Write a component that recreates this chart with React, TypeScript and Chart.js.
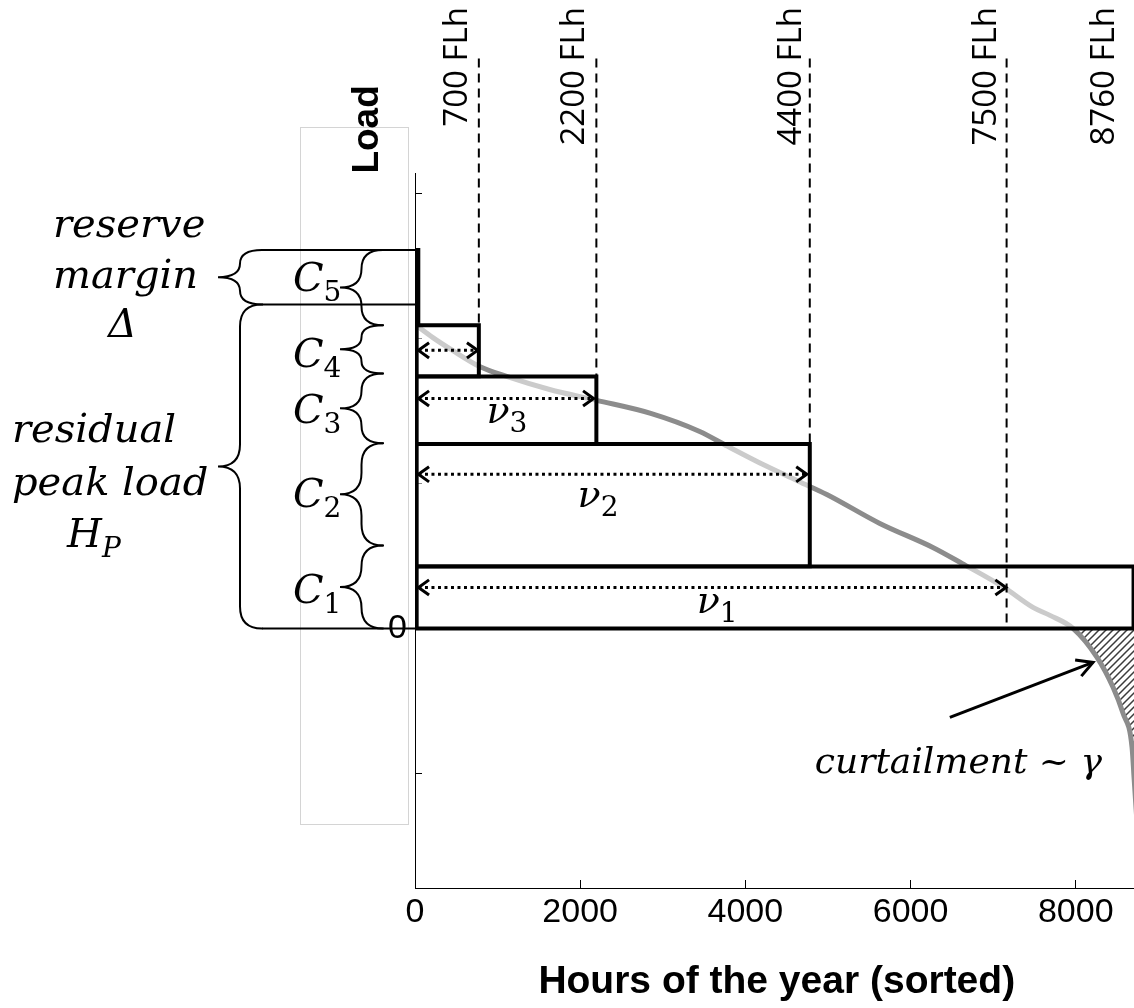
import { useEffect, useRef } from 'react';
import { Chart, registerables } from 'chart.js';

Chart.register(...registerables);

// ---------- data: x = hours of the year (sorted), y = normalised residual load ----------
const curveHours = [30, 212, 454, 782, 1109, 1630, 2200, 2854, 3447, 3787, 4259, 4647, 4986, 5628, 6270, 6622, 7131, 7482, 7688, 7967, 8258, 8452, 8573, 8682, 8706, 8760];
const curveLoad = [2.086, 2.01, 1.92, 1.809, 1.74, 1.65, 1.575, 1.485, 1.36, 1.257, 1.119, 1.015, 0.925, 0.725, 0.559, 0.449, 0.283, 0.145, 0.09, 0, -0.2, -0.407, -0.587, -0.822, -1.029, -1.5];

// capacity blocks C1..C5
const blockNames = ['1', '2', '3', '4', '5'];
const blockStart = [20, 20, 20, 20, 20];
const blockEnd = [8700, 4780, 2196, 773, 40];
const blockBottom = [0, 0.428, 1.274, 1.74, 2.093];
const blockTop = [0.428, 1.274, 1.74, 2.093, 2.614];

// full-load-hour markers
const flhLabels = ['700 FLh', '2200 FLh', '4400 FLh', '7500 FLh', '8760 FLh'];
const flhLabelHours = [519, 1933, 4562, 6921, 8355];
const flhLineHours = [773, 2196, 4780, 7163];
const flhLineBottom = [2.093, 1.74, 1.274, 0];
const flhLineTop = 3.936;

// utilisation arrows nu_1..nu_4
const nuStart = 42;
const nuEnd = [7155, 4744, 2163, 757];
const nuLevel = [0.283, 1.064, 1.588, 1.92];
const nuLabelSub = ['1', '2', '3'];
const nuLabelHours = [3411, 1969, 866];
const nuLabelLoad = [0.104, 0.836, 1.416];

// braces
const braceBounds = [0, 0.573, 1.278, 1.761, 2.093, 2.614];
const cLabelLoad = [0.276, 0.939, 1.519, 1.906, 2.431];
const reserveBounds = [2.237, 2.614];
const residualBounds = [0, 2.237];

// curtailment annotation
const curtailArrowHours = [6476, 8209];
const curtailArrowLoad = [-0.615, -0.235];
const curtailTextHours = 8318;
const curtailTextLoad = -1.001;

// axes
const xMax = 8760;
const xTickValues = [0, 2000, 4000, 6000, 8000];
const yMin = -1.793;
const yMax = 3.145;
const yTickValues = [-1, 0, 1, 2, 3];

const SERIF = '"DejaVu Serif", serif';
const SANS = '"Liberation Sans", Arial, sans-serif';
const LABEL = '"Open Sans", sans-serif';

function brace(ctx: CanvasRenderingContext2D, xTip: number, xEnd: number, y0: number, y1: number, yTip: number) {
  const xm = (xTip + xEnd) / 2;
  const rx = xEnd - xm;
  const r0 = Math.min(rx, (yTip - y0) / 2);
  const r1 = Math.min(rx, (y1 - yTip) / 2);
  ctx.beginPath();
  ctx.moveTo(xEnd, y0);
  ctx.quadraticCurveTo(xm, y0, xm, y0 + r0);
  ctx.lineTo(xm, yTip - r0);
  ctx.quadraticCurveTo(xm, yTip, xTip, yTip);
  ctx.quadraticCurveTo(xm, yTip, xm, yTip + r1);
  ctx.lineTo(xm, y1 - r1);
  ctx.quadraticCurveTo(xm, y1, xEnd, y1);
  ctx.stroke();
}

function chevron(ctx: CanvasRenderingContext2D, x: number, y: number, angle: number, len: number, spread: number) {
  ctx.beginPath();
  ctx.moveTo(x - len * Math.cos(angle - spread), y - len * Math.sin(angle - spread));
  ctx.lineTo(x, y);
  ctx.lineTo(x - len * Math.cos(angle + spread), y - len * Math.sin(angle + spread));
  ctx.stroke();
}

function subText(ctx: CanvasRenderingContext2D, main: string, sub: string, x: number, y: number, mainFont: string, subFont: string, dy: number) {
  ctx.textAlign = 'left';
  ctx.textBaseline = 'alphabetic';
  ctx.font = mainFont;
  ctx.fillText(main, x, y);
  const w = ctx.measureText(main).width;
  ctx.font = subFont;
  ctx.fillText(sub, x + w, y + dy);
}

const annotations = {
  id: 'annotations',
  beforeDatasetsDraw(chart: any) {
    const { ctx, chartArea } = chart;
    const ys = chart.scales.y;
    const L = chartArea.left;
    ctx.save();
    ctx.strokeStyle = '#d4d4d4';
    ctx.lineWidth = 1;
    const t = Math.round(ys.getPixelForValue(3.46)) + 0.5;
    const b = Math.round(ys.getPixelForValue(-1.354)) + 0.5;
    ctx.strokeRect(L - 114.5, t, 108, b - t);
    ctx.restore();
  },
  afterDatasetsDraw(chart: any) {
    const { ctx, chartArea } = chart;
    const xs = chart.scales.x;
    const ys = chart.scales.y;
    const px = (v: number) => xs.getPixelForValue(v);
    const py = (v: number) => ys.getPixelForValue(v);
    const L = chartArea.left;
    ctx.save();
    ctx.fillStyle = '#000';
    ctx.strokeStyle = '#000';

    // arrowheads of the nu arrows
    ctx.lineWidth = 3;
    ctx.lineCap = 'butt';
    ctx.lineJoin = 'miter';
    nuEnd.forEach((e, i) => {
      const y = py(nuLevel[i]);
      chevron(ctx, px(nuStart), y, Math.PI, 13, 0.62);
      chevron(ctx, px(e), y, 0, 13, 0.62);
    });

    // curtailment arrow
    const ax0 = px(curtailArrowHours[0]);
    const ay0 = py(curtailArrowLoad[0]);
    const ax1 = px(curtailArrowHours[1]);
    const ay1 = py(curtailArrowLoad[1]);
    ctx.beginPath();
    ctx.moveTo(ax0, ay0);
    ctx.lineTo(ax1, ay1);
    ctx.stroke();
    chevron(ctx, ax1, ay1, Math.atan2(ay1 - ay0, ax1 - ax0), 18, 0.5);

    // braces
    ctx.lineWidth = 2;
    ctx.lineCap = 'round';
    for (let i = 0; i < braceBounds.length - 1; i++) {
      const y0 = py(braceBounds[i + 1]);
      const y1 = py(braceBounds[i]);
      brace(ctx, L - 75, L - 32, y0, y1, (y0 + y1) / 2);
    }
    [reserveBounds, residualBounds].forEach((bb) => {
      const y0 = py(bb[1]);
      const y1 = py(bb[0]);
      brace(ctx, L - 197, L - 153, y0, y1, (y0 + y1) / 2);
    });
    ctx.lineCap = 'butt';
    [reserveBounds[1], reserveBounds[0], residualBounds[0]].forEach((v) => {
      const y = py(v);
      ctx.beginPath();
      ctx.moveTo(L - 153, y);
      ctx.lineTo(L, y);
      ctx.stroke();
    });

    // C labels
    const mainF = `italic 40px ${SERIF}`;
    const subF = `28px ${SERIF}`;
    blockNames.forEach((n, i) => {
      subText(ctx, 'C', n, L - 122, py(cLabelLoad[i]) + 14.5, mainF, subF, 10);
    });

    // nu labels
    nuLabelSub.forEach((s, i) => {
      subText(ctx, 'ν', s, px(nuLabelHours[i]), py(nuLabelLoad[i]), `italic 38px ${SERIF}`, subF, 9);
    });

    // left texts
    ctx.font = mainF;
    ctx.textAlign = 'left';
    ctx.textBaseline = 'alphabetic';
    ctx.fillText('reserve', L - 362, py(2.705));
    ctx.fillText('margin', L - 362, py(2.348));
    ctx.fillText('Δ', L - 307, py(2.012));
    ctx.fillText('residual', L - 403, py(1.287));
    ctx.fillText('peak load', L - 403, py(0.918));
    subText(ctx, 'H', 'P', L - 348, py(0.559), mainF, `italic 28px ${SERIF}`, 10);

    // curtailment text
    ctx.font = `italic 36px ${SERIF}`;
    ctx.textAlign = 'right';
    ctx.textBaseline = 'alphabetic';
    ctx.fillText('curtailment ~ γ', px(curtailTextHours), py(curtailTextLoad));

    // FLh labels
    ctx.font = `33px ${LABEL}`;
    flhLabels.forEach((lab, i) => {
      ctx.save();
      ctx.translate(px(flhLabelHours[i]), 7);
      ctx.rotate(-Math.PI / 2);
      ctx.textAlign = 'right';
      ctx.textBaseline = 'middle';
      ctx.fillText(lab, 0, 0);
      ctx.restore();
    });

    // y axis name
    ctx.save();
    ctx.translate(L - 47, py(3.446));
    ctx.rotate(-Math.PI / 2);
    ctx.font = `bold 37px ${SANS}`;
    ctx.textAlign = 'center';
    ctx.textBaseline = 'middle';
    ctx.fillText('Load', 0, 0);
    ctx.restore();

    ctx.restore();
  },
};

export default function App() {
  const ref = useRef<HTMLCanvasElement>(null);
  useEffect(() => {
    const canvas = ref.current;
    if (!canvas) return;
    const pc = document.createElement('canvas');
    pc.width = 7;
    pc.height = 7;
    const p = pc.getContext('2d')!;
    p.strokeStyle = '#3c3c3c';
    p.lineWidth = 1.5;
    p.beginPath();
    p.moveTo(-1, 8);
    p.lineTo(8, -1);
    p.moveTo(-1, 1);
    p.lineTo(1, -1);
    p.moveTo(6, 8);
    p.lineTo(8, 6);
    p.stroke();
    const pattern = canvas.getContext('2d')!.createPattern(pc, 'repeat');

    const curvePts = curveHours.map((x, i) => ({ x, y: curveLoad[i] }));
    const curtailPts = curvePts.filter((pt) => pt.y <= 0);

    const datasets: any[] = [];
    datasets.push({
      label: 'curtailment',
      data: curtailPts,
      borderWidth: 0,
      borderColor: 'rgba(0,0,0,0)',
      backgroundColor: pattern,
      fill: { value: 0 },
      cubicInterpolationMode: 'monotone',
      order: 10,
    });
    datasets.push({
      label: 'residual load',
      data: curvePts,
      borderColor: '#8c8c8c',
      borderWidth: 5,
      fill: false,
      cubicInterpolationMode: 'monotone',
      order: 9,
    });
    blockNames.forEach((n, i) => {
      const s = blockStart[i];
      const e = blockEnd[i];
      const b = blockBottom[i];
      const t = blockTop[i];
      datasets.push({
        label: 'C' + n,
        data: [
          { x: s, y: b },
          { x: s, y: t },
          { x: e, y: t },
          { x: e, y: b },
          { x: s, y: b },
          { x: s, y: t },
        ],
        borderColor: '#000',
        borderWidth: 4,
        borderJoinStyle: 'miter',
        backgroundColor: 'rgba(255,255,255,0.55)',
        fill: 'shape',
        tension: 0,
        order: 8,
      });
    });
    flhLineHours.forEach((h, i) => {
      datasets.push({
        label: flhLabels[i],
        data: [
          { x: h, y: flhLineTop },
          { x: h, y: flhLineBottom[i] },
        ],
        borderColor: '#000',
        borderWidth: 2,
        borderDash: [9, 6],
        fill: false,
        clip: false,
        order: 7,
      });
    });
    nuEnd.forEach((e, i) => {
      datasets.push({
        label: 'nu' + (i + 1),
        data: [
          { x: nuStart, y: nuLevel[i] },
          { x: e, y: nuLevel[i] },
        ],
        borderColor: '#000',
        borderWidth: 3,
        borderDash: [3, 3.5],
        fill: false,
        order: 6,
      });
    });

    const chart = new Chart(canvas, {
      type: 'line',
      data: { datasets },
      plugins: [annotations],
      options: {
        animation: false,
        responsive: false,
        maintainAspectRatio: false,
        layout: { padding: { left: 0, right: 11.5, top: 173, bottom: 0 } },
        elements: { point: { radius: 0, hoverRadius: 0 } },
        plugins: {
          legend: { display: false },
          tooltip: { enabled: false },
          filler: { drawTime: 'beforeDatasetDraw' },
        },
        events: [],
        scales: {
          x: {
            type: 'linear',
            position: 'bottom',
            min: 0,
            max: xMax,
            afterBuildTicks: (s: any) => {
              s.ticks = xTickValues.map((value) => ({ value }));
            },
            afterFit: (s: any) => {
              s.height = 120;
              s.paddingLeft = 0;
              s.paddingRight = 0;
            },
            border: { display: true, color: '#000', width: 1 },
            grid: { drawOnChartArea: false, drawTicks: true, tickLength: -8, color: '#000' },
            ticks: {
              padding: 12,
              color: '#000',
              maxRotation: 0,
              autoSkip: false,
              font: { family: SANS, size: 34 },
              callback: (v: any) => String(v),
            },
            title: {
              display: true,
              text: 'Hours of the year (sorted)',
              color: '#000',
              font: { family: SANS, size: 39, weight: 'bold' },
              padding: { top: 0, bottom: 2 },
            },
          },
          y: {
            type: 'linear',
            min: yMin,
            max: yMax,
            afterBuildTicks: (s: any) => {
              s.ticks = yTickValues.map((value) => ({ value }));
            },
            afterFit: (s: any) => {
              s.width = 415;
              s.paddingTop = 0;
              s.paddingBottom = 0;
            },
            border: { display: true, color: '#000', width: 1 },
            grid: { drawOnChartArea: false, drawTicks: true, tickLength: -7, color: '#000' },
            ticks: {
              padding: 15,
              color: '#000',
              autoSkip: false,
              font: { family: SANS, size: 34 },
              callback: (v: any) => (v === 0 ? '0' : ''),
            },
          },
        },
      } as any,
    });
    return () => chart.destroy();
  }, []);

  return (
    <div style={{ position: 'fixed', left: 0, top: 0, width: 1134, height: 1008, overflow: 'hidden', background: '#fff' }}>
      <canvas ref={ref} width={1150} height={1008} style={{ display: 'block', width: 1150, height: 1008 }} />
    </div>
  );
}
